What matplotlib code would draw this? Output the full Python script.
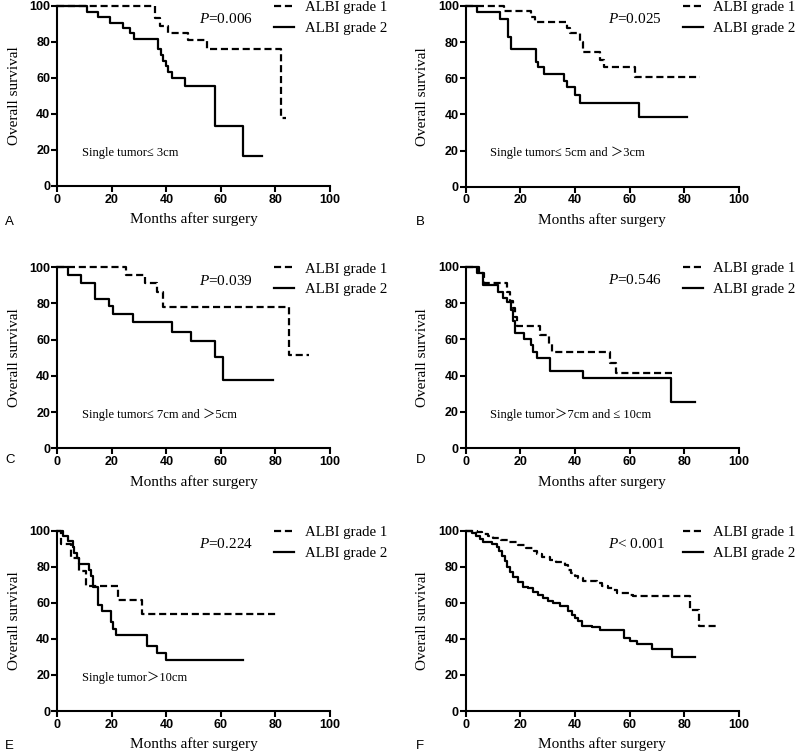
import matplotlib
matplotlib.use("Agg")
import matplotlib.pyplot as plt

plt.rcParams.update({
    "font.family": ["Liberation Serif", "Noto Sans CJK SC"],
    "mathtext.fontset": "custom",
    "mathtext.it": "Liberation Serif:italic",
    "mathtext.rm": "Liberation Serif",
    "axes.linewidth": 1.5,
    "xtick.major.width": 1.5,
    "ytick.major.width": 1.5,
    "xtick.major.size": 4,
    "ytick.major.size": 4,
    "xtick.major.pad": 1.5,
    "ytick.major.pad": 1.0,
})

# ---------------- data (months, overall survival %) ----------------
A_g1_t = [0, 36, 37.7, 40.7, 48, 55, 82, 84]
A_g1_s = [100, 93.1, 89.1, 84.8, 81.1, 76.1, 37.8, 37.8]
A_g2_t = [0, 11, 15, 19.3, 24, 26.7, 28, 37, 38.2, 38.9, 40, 40.7, 42, 46.8, 57.8, 68, 75.2]
A_g2_s = [100, 96.7, 94, 90.7, 87.6, 84.8, 81.5, 76, 72.8, 69.6, 66.7, 63.5, 60.2, 55.7, 33.5, 16.7, 16.7]

B_g1_t = [0, 14.1, 23.9, 25.5, 37, 38.2, 41.8, 42.8, 49, 50.6, 62, 85.7]
B_g1_s = [100, 97, 94, 91, 88, 84.9, 80, 74.4, 70, 66.4, 60.5, 60.5]
B_g2_t = [0, 4, 12.6, 15.6, 16.6, 25.7, 26.6, 28.7, 36, 37, 40, 41.8, 63.3, 81]
B_g2_s = [100, 96.5, 93, 83, 76, 69.2, 66.4, 62.4, 58.7, 55.4, 50.7, 46.1, 38.4, 38.4]

C_g1_t = [0, 25.2, 32, 36.4, 38.9, 84.8, 92.4]
C_g1_s = [100, 95.6, 91.2, 86.5, 77.9, 51.7, 51.7]
C_g2_t = [0, 3.8, 8.7, 14, 19, 20.5, 27.6, 42, 48.9, 57.8, 60.9, 79.2]
C_g2_s = [100, 95.6, 91.2, 82.7, 78.5, 74, 69.6, 64.5, 59.1, 50.6, 37.9, 37.9]

D_g1_t = [0, 5, 6.7, 15.2, 16.2, 17.2, 18, 18.9, 27.2, 30.5, 31.5, 52.8, 55, 75.5]
D_g1_s = [100, 96.3, 90.8, 86.2, 81, 77.5, 72.5, 67.3, 62.4, 57.4, 52.8, 46.8, 41.3, 41.3]
D_g2_t = [0, 4, 6.2, 12, 13.8, 15, 16.5, 17.2, 18, 21.3, 23.8, 24.8, 26, 30.9, 42.8, 75, 84]
D_g2_s = [100, 96.5, 89.9, 86.2, 83, 80.4, 76, 70, 63.3, 60, 56.9, 53.2, 49.5, 42.8, 38.5, 25.5, 25.5]

E_g1_t = [0, 1.2, 4.9, 8, 10.5, 22.4, 31, 80.4]
E_g1_s = [100, 92.6, 84.7, 77.6, 69.3, 61.6, 53.8, 53.8]
E_g2_t = [0, 2, 4, 5.6, 6.1, 7.1, 8, 11.7, 12.3, 13.2, 14.8, 16.5, 19.7, 20.5, 21.4, 32.8, 36.4, 39.7, 68.2]
E_g2_s = [100, 97.2, 94.3, 91, 87.8, 84.7, 81.5, 78.2, 74.9, 68.6, 58.8, 55.5, 49.2, 45.5, 42.3, 35.9, 32, 28.1, 28.1]

F_g1_t = [0, 4, 6, 8, 10, 13, 16, 19, 22, 25, 26, 28, 31, 33, 36.5, 37.6, 38.6, 40, 41, 43,
          48, 50, 52, 54, 55.2, 60, 61.3, 82, 85.4, 92.4]
F_g1_s = [100, 99.2, 98.2, 97, 96, 95, 93.5, 92, 90.5, 89, 87, 85.5, 84, 82.8, 81, 78.2, 76.5, 75, 73.6, 72,
          70.8, 69.5, 68.4, 67, 65.2, 64.5, 63.6, 56.2, 47.1, 47.1]
F_g2_t = [0, 2.2, 3.8, 5.2, 6.5, 9.5, 11.3, 12.3, 13.2, 14.4, 15.2, 16.2, 17.4, 19.3, 21.1, 22.9, 24.8,
          26.6, 28.4, 30.2, 32.1, 34.5, 36.8, 37.6, 38.8, 40, 41.2, 42.4, 46.1, 49.1, 58, 60.1, 62.6,
          68, 75.4, 84]
F_g2_s = [100, 99, 97, 95.5, 94, 92.5, 91, 89, 86, 83, 80, 77.3, 74.1, 71.5, 68.9, 68, 66.2,
          64.5, 62.5, 61, 59.7, 58.5, 58, 55.5, 53.5, 51.5, 49.8, 47.3, 46.5, 45.1, 40.7, 39, 37,
          34.2, 29.8, 29.8]

panel_letters = ["A", "B", "C", "D", "E", "F"]
p_texts = [r"$P$=0.006", r"$P$=0.025", r"$P$=0.039", r"$P$=0.546", r"$P$=0.224", r"$P$< 0.001"]
subgroups = ["Single tumor≤ 3cm", "Single tumor≤ 5cm and ＞3cm", "Single tumor≤ 7cm and ＞5cm",
             "Single tumor＞7cm and ≤ 10cm", "Single tumor＞10cm", ""]
series = [(A_g1_t, A_g1_s, A_g2_t, A_g2_s), (B_g1_t, B_g1_s, B_g2_t, B_g2_s),
          (C_g1_t, C_g1_s, C_g2_t, C_g2_s), (D_g1_t, D_g1_s, D_g2_t, D_g2_s),
          (E_g1_t, E_g1_s, E_g2_t, E_g2_s), (F_g1_t, F_g1_s, F_g2_t, F_g2_s)]
legend_labels = ["ALBI grade 1", "ALBI grade 2"]
ticks = [0, 20, 40, 60, 80, 100]

fig = plt.figure(figsize=(8, 7.56), dpi=100)
W, H = 800.0, 756.0
# axes boxes in pixels: (left, top, right, bottom)
boxes = [(57.3, 6, 330, 186), (465.7, 6, 739, 186.7),
         (57.3, 267.3, 330, 448.3), (465.7, 266.7, 739, 448.3),
         (57.3, 530.7, 330, 711), (465.7, 530.7, 739, 711)]
letter_pos = [(5, 222), (416, 222), (5, 460.5), (416, 460.5), (5, 746), (416, 746)]

for i, (l, t, r, b) in enumerate(boxes):
    ax = fig.add_axes([l / W, 1 - b / H, (r - l) / W, (b - t) / H])
    g1t, g1s, g2t, g2s = series[i]
    ax.step(g1t, g1s, where="post", color="black", lw=1.6, dashes=(3.2, 1.7),
            label=legend_labels[0], clip_on=False)
    ax.step(g2t, g2s, where="post", color="black", lw=1.6,
            label=legend_labels[1], clip_on=False)
    ax.set_xlim(0, 100)
    ax.set_ylim(0, 100)
    ax.set_xticks(ticks)
    ax.set_yticks(ticks)
    for lab in ax.get_xticklabels() + ax.get_yticklabels():
        lab.set_fontfamily("Liberation Sans")
        lab.set_fontweight("bold")
        lab.set_fontsize(9)
    ax.spines["top"].set_visible(False)
    ax.spines["right"].set_visible(False)
    ax.set_xlabel("Months after surgery", fontsize=11, labelpad=5)
    ax.set_ylabel("Overall survival", fontsize=11, labelpad=6)
    ax.legend(loc="upper left", bbox_to_anchor=(0.795, 1.028), frameon=False,
              fontsize=10.7, handlelength=1.35, handletextpad=0.7,
              borderpad=0, borderaxespad=0, labelspacing=0.5)
    ax.text(0.52, 0.926, p_texts[i], transform=ax.transAxes, fontsize=11,
            va="center", ha="left")
    if subgroups[i]:
        ax.text(0.09, 0.186, subgroups[i], transform=ax.transAxes, fontsize=9,
                va="center", ha="left", family=["Liberation Serif", "Noto Sans CJK SC"])
    lx, ly = letter_pos[i]
    fig.text(lx / W, 1 - ly / H, panel_letters[i], fontsize=9.5, family="Liberation Sans",
             va="center", ha="left")

fig.savefig("out.png", dpi=100)
